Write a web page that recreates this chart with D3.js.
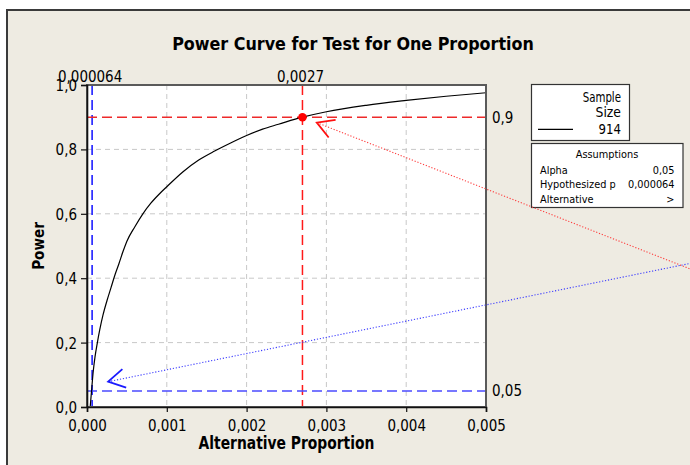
<!DOCTYPE html>
<html><head><meta charset="utf-8">
<script src="https://cdn.jsdelivr.net/npm/d3@7"></script>
<style>body{margin:0;background:#fff}text{font-family:"DejaVu Sans",Verdana,sans-serif;fill:#000}</style>
</head><body>
<script>
// ---- data ----
const altProp = [0.00004,0.00006,0.00008,0.0001,0.00013,0.00016,0.0002,0.00025,0.0003,0.00035,0.0004,0.00045,0.0005,0.0006,0.0007,0.0008,0.0009,0.001,0.0012,0.0014,0.0016,0.0018,0.002,0.0022,0.0024,0.0027,0.003,0.0035,0.004,0.0045,0.005];
const powerVals = [0.0,0.06,0.115,0.155,0.20,0.24,0.285,0.33,0.37,0.41,0.445,0.482,0.515,0.56,0.60,0.633,0.66,0.684,0.73,0.767,0.795,0.82,0.843,0.863,0.878,0.9,0.917,0.937,0.952,0.965,0.976];
const xTicks = [0,0.001,0.002,0.003,0.004,0.005];
const yTicks = [0,0.2,0.4,0.6,0.8,1.0];
const refP = [0.000064, 0.0027];
const refPLabels = ["0,000064","0,0027"];
const refPower = [0.05, 0.9];
const refPowerLabels = ["0,05","0,9"];
const targetPoint = [0.0027, 0.9];
const sampleSize = ["914"];
const assumpLabels = ["Alpha","Hypothesized p","Alternative"];
const assumpValues = ["0,05","0,000064",">"];
const redArrow = {tip:[0.00288,0.883], tail:[0.00756,0.4286]};
const blueArrow = {tip:[0.000265,0.0786], tail:[0.00756,0.446]};
const titleText = "Power Curve for Test for One Proportion";
const xTitle = "Alternative Proportion", yTitle = "Power";

// ---- setup ----
const W=690,H=465;
const loc = d3.formatLocale({decimal:",",thousands:".",grouping:[3],currency:["",""]});
const fx = loc.format(".3f"), fy = loc.format(".1f");
const svg = d3.select("body").append("svg").attr("width",W).attr("height",H);
const x = d3.scaleLinear().domain([0,0.005]).range([87,486]);
const y = d3.scaleLinear().domain([0,1]).range([407,85]);

function fit(sel, target){ // compress horizontally to match reference width
  const t = sel.node(); const w = t.getComputedTextLength();
  const sx = target / w;
  const ax = +sel.attr("data-x"), ay = +sel.attr("data-y");
  const anchor = sel.attr("text-anchor") || "start";
  sel.attr("x",0).attr("y",0).attr("transform",`translate(${ax},${ay}) scale(${sx},1)`);
  return sel;
}
function label(g,xx,yy,str,size,opts={}){
  const t = g.append("text").attr("data-x",xx).attr("data-y",yy).attr("x",xx).attr("y",yy)
    .attr("font-size",size).attr("text-anchor",opts.anchor||"start")
    .attr("font-weight",opts.bold?"bold":"normal").text(str);
  if(opts.sx){ t.attr("x",0).attr("y",0).attr("transform",`translate(${xx},${yy}) scale(${opts.sx},1)`); }
  return t;
}
const SX = 0.87;

// panel
svg.append("rect").attr("x",7).attr("y",10).attr("width",710).attr("height",480)
  .attr("fill","#eeebe2").attr("stroke","#3a3a3a").attr("stroke-width",2);

// title
fit(label(svg,353,50,titleText,18,{anchor:"middle",bold:true}),362);

// plot area
svg.append("rect").attr("x",x(0)).attr("y",y(1)).attr("width",x(0.005)-x(0)).attr("height",y(0)-y(1)).attr("fill","#fff");

// grid
const grid = svg.append("g").attr("stroke","#c8c8c8").attr("stroke-width",1).attr("stroke-dasharray","5,4");
grid.selectAll(".gx").data(xTicks.slice(1,-1)).join("line")
  .attr("x1",d=>x(d)).attr("x2",d=>x(d)).attr("y1",y(1)).attr("y2",y(0));
grid.selectAll(".gy").data(yTicks.slice(1,-1)).join("line")
  .attr("y1",d=>y(d)).attr("y2",d=>y(d)).attr("x1",x(0)).attr("x2",x(0.005));

// reference lines
const refColorsV = ["#1010ff","#ff1a1a"], refColorsH = ["#4b4bff","#ee2a2a"];
svg.selectAll(".rv").data(refP).join("line")
  .attr("x1",d=>x(d)).attr("x2",d=>x(d)).attr("y1",y(1)).attr("y2",y(0))
  .attr("stroke",(d,i)=>refColorsV[i]).attr("stroke-width",1.5).attr("stroke-dasharray","10,5");
svg.selectAll(".rh").data(refPower).join("line")
  .attr("y1",d=>y(d)).attr("y2",d=>y(d)).attr("x1",x(0)).attr("x2",x(0.005))
  .attr("stroke",(d,i)=>refColorsH[i]).attr("stroke-width",1.5).attr("stroke-dasharray","10,5");

// curve
const pts = altProp.map((p,i)=>[p,powerVals[i]]);
svg.append("path").datum(pts).attr("fill","none").attr("stroke","#000").attr("stroke-width",1.2)
  .attr("d",d3.line().x(d=>x(d[0])).y(d=>y(d[1])).curve(d3.curveMonotoneX));

// frame
svg.append("rect").attr("x",x(0)).attr("y",y(1)).attr("width",x(0.005)-x(0)).attr("height",y(0)-y(1))
  .attr("fill","none").attr("stroke","#5a5a5a").attr("stroke-width",2);

// axes
const xAxis = svg.append("g").attr("transform",`translate(0,${y(0)})`)
  .call(d3.axisBottom(x).tickValues(xTicks).tickFormat(fx).tickSize(5).tickPadding(4));
const yAxis = svg.append("g").attr("transform",`translate(${x(0)},0)`)
  .call(d3.axisLeft(y).tickValues(yTicks).tickFormat(fy).tickSize(6).tickPadding(3));
[xAxis,yAxis].forEach(a=>{
  a.select(".domain").attr("stroke","#111").attr("stroke-width",1.6);
  a.selectAll(".tick line").attr("stroke","#111").attr("stroke-width",1.2);
  a.selectAll(".tick text").attr("font-size",15.5).attr("font-family","DejaVu Sans").attr("fill","#000");
});
xAxis.selectAll(".tick text").attr("transform",`scale(${SX},1)`).attr("dy","0.95em");
yAxis.selectAll(".tick text").attr("x",-10/SX).attr("transform",`scale(${SX},1)`).attr("dy","0.36em");

// top reference labels
refP.forEach((p,i)=>label(svg,x(p)-2,81.5,refPLabels[i],15.5,{anchor:"middle",sx:SX}));
// right reference labels
refPower.forEach((v,i)=>label(svg,492,y(v)+5.5,refPowerLabels[i],15.5,{sx:SX}));

// target point
svg.append("circle").attr("cx",x(targetPoint[0])).attr("cy",y(targetPoint[1])).attr("r",4.3).attr("fill","#ff0000");

// axis titles
fit(label(svg,286.5,449,xTitle,17,{anchor:"middle",bold:true}),176);
{
  const t = svg.append("text").attr("font-size",16).attr("font-weight","bold").attr("text-anchor","middle").text(yTitle);
  const w = t.node().getComputedTextLength();
  t.attr("transform",`translate(43.5,246) rotate(-90) scale(${47.7/w},1)`);
}

// legend box
svg.append("rect").attr("x",531.5).attr("y",84.5).attr("width",98).attr("height",56)
  .attr("fill","#fff").attr("stroke","#333").attr("stroke-width",1.2);
fit(label(svg,621,101.5,"Sample",13.5,{anchor:"end"}),38.3);
fit(label(svg,621,117.3,"Size",13.5,{anchor:"end"}),25.5);
fit(label(svg,621,133.8,sampleSize[0],13.5,{anchor:"end"}),22.5);
svg.append("line").attr("x1",538).attr("x2",573).attr("y1",129.3).attr("y2",129.3).attr("stroke","#000").attr("stroke-width",1.2);

// assumptions box
svg.append("rect").attr("x",531.5).attr("y",143.5).attr("width",151.5).attr("height",64)
  .attr("fill","#fff").attr("stroke","#333").attr("stroke-width",1.2);
fit(label(svg,607,158.3,"Assumptions",10.5,{anchor:"middle"}),62.7);
assumpLabels.forEach((s,i)=>label(svg,540,173.5+i*14.5,s,10.5,{sx:0.93}));
assumpValues.forEach((s,i)=>label(svg,674.5,173.5+i*14.5,s,10.5,{anchor:"end",sx:0.93}));

// arrows
function arrow(a,color,lineColor){
  const tx=x(a.tip[0]), ty=y(a.tip[1]), ex=x(a.tail[0]), ey=y(a.tail[1]);
  svg.append("line").attr("x1",tx).attr("y1",ty).attr("x2",ex).attr("y2",ey)
    .attr("stroke",lineColor).attr("stroke-width",1.1).attr("stroke-dasharray","1.2,1.8");
  const ang = Math.atan2(ey-ty, ex-tx), L=19, sp=Math.PI/6;
  const p = d3.path();
  p.moveTo(tx+L*Math.cos(ang-sp), ty+L*Math.sin(ang-sp));
  p.lineTo(tx,ty);
  p.lineTo(tx+L*Math.cos(ang+sp), ty+L*Math.sin(ang+sp));
  svg.append("path").attr("d",p.toString()).attr("fill","none").attr("stroke",color).attr("stroke-width",1.8);
}
arrow(redArrow,"#ff1010","#ff3c3c");
arrow(blueArrow,"#1a1aff","#3c3cff");
</script>
</body></html>
